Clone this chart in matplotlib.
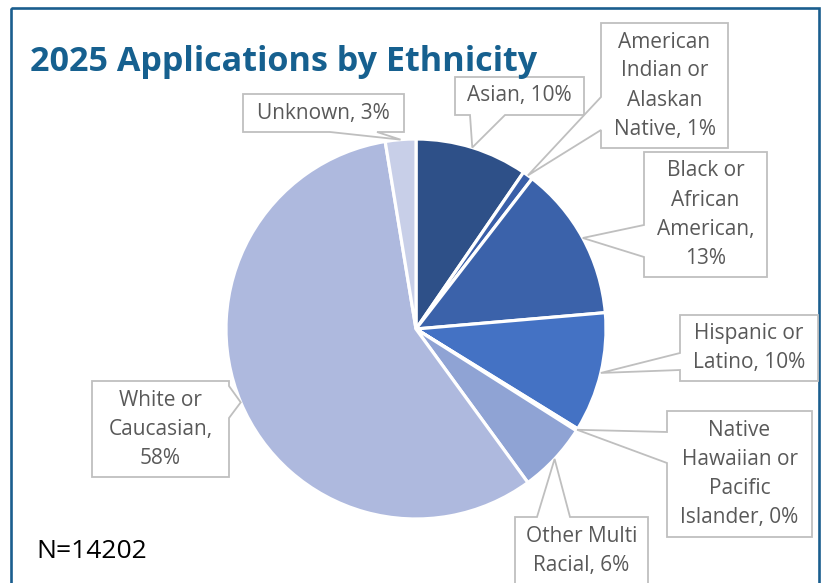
import numpy as np
import matplotlib
matplotlib.use("Agg")
import matplotlib.pyplot as plt
from matplotlib.patches import Polygon, Rectangle

# Share of 2025 applications by ethnicity (percent)
categories = [
    "Asian",
    "American\nIndian or\nAlaskan\nNative",
    "Black or\nAfrican\nAmerican,",
    "Hispanic or\nLatino",
    "Native\nHawaiian or\nPacific\nIslander",
    "Other Multi\nRacial",
    "White or\nCaucasian,",
    "Unknown",
]
shares = [9.6, 0.9, 13.2, 10.2, 0.2, 6.0, 57.6, 2.6]
colors = ["#2E5088", "#3A5FA8", "#3B62AA", "#4472C4", "#6F8CCB",
          "#8FA3D4", "#AEB9DE", "#C8CFE8"]
title = "2025 Applications by Ethnicity"
n_note = "N=14202"

W, H = 822, 583
fig = plt.figure(figsize=(W / 100, H / 100), dpi=100)
ax = fig.add_axes([0, 0, 1, 1])

# With y pointing down, startangle=-90 is the top and counterclock=True
# runs clockwise on screen.
wedges, _ = ax.pie(shares, colors=colors, startangle=-90, counterclock=True,
                   center=(416, 329), radius=190,
                   wedgeprops=dict(edgecolor="white", linewidth=2.3),
                   frame=True)
ax.set_xlim(0, W)
ax.set_ylim(H, 0)  # pixel-style coordinates, y grows downward
ax.set_aspect("equal")
ax.axis("off")

# outer frame
ax.add_patch(Rectangle((11, 8), 808, 600, fill=False, edgecolor="#1A5E8E",
                       linewidth=1.9, clip_on=False))

fig.text(30 / W, 1 - 62 / H, title, fontsize=24.6, fontweight="bold",
         family="Open Sans", color="#16608F", va="center", ha="left")
fig.text(36 / W, 1 - 551 / H, n_note, fontsize=19, family="Open Sans",
         color="black", va="center", ha="left")


def tip_of(w):
    th = np.deg2rad((w.theta1 + w.theta2) / 2)
    cx, cy = w.center
    return cx + w.r * np.cos(th), cy + w.r * np.sin(th)


def callout(box, side, base, tip, text):
    x0, y0, x1, y1 = box
    a, b = base
    tl, tr, br, bl = (x0, y0), (x1, y0), (x1, y1), (x0, y1)
    if side == "top":
        pts = [tl, (a, y0), tip, (b, y0), tr, br, bl]
    elif side == "right":
        pts = [tl, tr, (x1, a), tip, (x1, b), br, bl]
    elif side == "bottom":
        pts = [tl, tr, br, (b, y1), tip, (a, y1), bl]
    else:
        pts = [tl, tr, br, bl, (x0, b), tip, (x0, a)]
    ax.add_patch(Polygon(pts, closed=True, facecolor="white",
                         edgecolor="#BFBFBF", linewidth=1.3, zorder=5))
    ax.text((x0 + x1) / 2, (y0 + y1) / 2, text, ha="center", va="center",
            multialignment="center", fontsize=15, family="Open Sans",
            color="#595959", linespacing=1.5, zorder=6)


def label_text(i):
    name = categories[i]
    pct = f"{shares[i]:.0f}%"
    if name.endswith(","):
        return f"{name}\n{pct}"
    return f"{name}, {pct}"


layout = [
    # box (x0, y0, x1, y1), side, base span
    ((455, 77, 584, 115), "bottom", (470, 505)),
    ((601, 23, 728, 148), "left", (97, 130)),
    ((644, 152, 767, 277), "left", (225, 257)),
    ((680, 315, 818, 381), "left", (353, 370)),
    ((667, 411, 812, 537), "left", (432, 463)),
    ((515, 517, 648, 585), "top", (537, 570)),
    ((92, 381, 229, 477), "right", (386, 418)),
    ((243, 94, 404, 132), "bottom", (330, 377)),
]

for i, (box, side, base) in enumerate(layout):
    callout(box, side, base, tip_of(wedges[i]), label_text(i))

fig.savefig("out.png", dpi=100)
